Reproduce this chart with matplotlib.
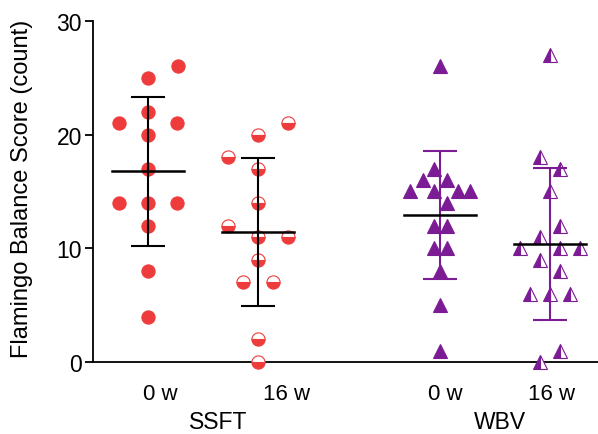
import numpy as np
import matplotlib
matplotlib.use('Agg')
import matplotlib.pyplot as plt
from matplotlib.transforms import blended_transform_factory

plt.rcParams['font.family'] = ['Liberation Sans', 'DejaVu Sans']

red = '#EE3B3B'
purple = '#7B1C94'

# values (Flamingo Balance Score, count)
ssft_0w = [26, 25, 22, 21, 21, 20, 17, 14, 14, 14, 12, 8, 4]
ssft_16w = [21, 20, 18, 17, 14, 12, 11, 11, 9, 7, 7, 2, 0]
wbv_0w = [26, 17, 16, 16, 15, 15, 15, 15, 14, 12, 12, 10, 10, 8, 5, 1]
wbv_16w = [27, 18, 17, 15, 12, 11, 10, 10, 10, 9, 8, 6, 6, 6, 1, 0]

# horizontal scatter of the dots (same order as values)
ssft_0w_dx = [0.27, 0, 0, -0.265, 0.265, 0, 0, -0.265, 0, 0.265, 0, 0, 0]
ssft_16w_dx = [0.27, 0, -0.27, 0, 0, -0.27, 0, 0.27, 0, -0.136, 0.136, 0, 0]
wbv_0w_dx = [0, -0.055, -0.16, 0.06, -0.27, -0.055, 0.167, 0.27, 0.06,
             -0.055, 0.06, -0.055, 0.06, 0, 0, 0]
wbv_16w_dx = [0, -0.09, 0.09, 0, 0.09, -0.09, -0.27, 0.09, 0.27, -0.09,
              0.09, -0.18, 0, 0.18, 0.09, -0.09]

tick_labels = ['0 w', '16 w', '0 w', '16 w']
groups = ['SSFT', 'WBV']

xpos = [0, 1, 2.655, 3.655]
label_pos = [0.11, 1.26, 2.7, 3.67]
group_pos = [0.64, 3.2]

fig = plt.figure(figsize=(5.98, 4.35), dpi=100)
ax = fig.add_axes([0.1555, 0.1655, 0.8445, 0.784])

series = [
    (ssft_0w, ssft_0w_dx, dict(marker='o', color=red, fillstyle='full'), 'black'),
    (ssft_16w, ssft_16w_dx, dict(marker='o', color=red, fillstyle='bottom',
                                 markerfacecoloralt='white'), 'black'),
    (wbv_0w, wbv_0w_dx, dict(marker='^', color=purple, fillstyle='full'), purple),
    (wbv_16w, wbv_16w_dx, dict(marker='^', color=purple, fillstyle='left',
                               markerfacecoloralt='white'), purple),
]

for x0, (vals, dx, style, ecol) in zip(xpos, series):
    vals = np.array(vals, dtype=float)
    xs = x0 + np.array(dx)
    ax.plot(xs, vals, linestyle='none', markersize=9.5, markeredgewidth=0.8,
            clip_on=False, zorder=3, **style)
    m = vals.mean()
    sd = vals.std(ddof=1)
    ax.errorbar([x0], [m], yerr=[sd], fmt='none', ecolor=ecol, elinewidth=1.5,
                capsize=12.5, capthick=1.5, zorder=4)
    ax.plot([x0 - 0.328, x0 + 0.328], [m, m], color='black', lw=1.8, zorder=4)

ax.set_xlim(-0.5, 4.09)
ax.set_ylim(0, 30)
ax.set_yticks([0, 10, 20, 30])
ax.set_xticks(label_pos, tick_labels)
ax.tick_params(axis='x', length=0, pad=15, labelsize=16)
ax.tick_params(axis='y', length=6, width=1.3, pad=2, labelsize=16.5)
ax.spines['top'].set_visible(False)
ax.spines['right'].set_visible(False)
ax.spines['left'].set_linewidth(1.3)
ax.spines['bottom'].set_linewidth(1.3)
ax.set_ylabel('Flamingo Balance Score (count)', fontsize=17)
ax.yaxis.set_label_coords(-0.119, 0.51)

trans = blended_transform_factory(ax.transData, ax.transAxes)
for gx, g in zip(group_pos, groups):
    ax.text(gx, -0.175, g, transform=trans, ha='center', va='center', fontsize=16.5)

fig.savefig('out.png', dpi=100)
